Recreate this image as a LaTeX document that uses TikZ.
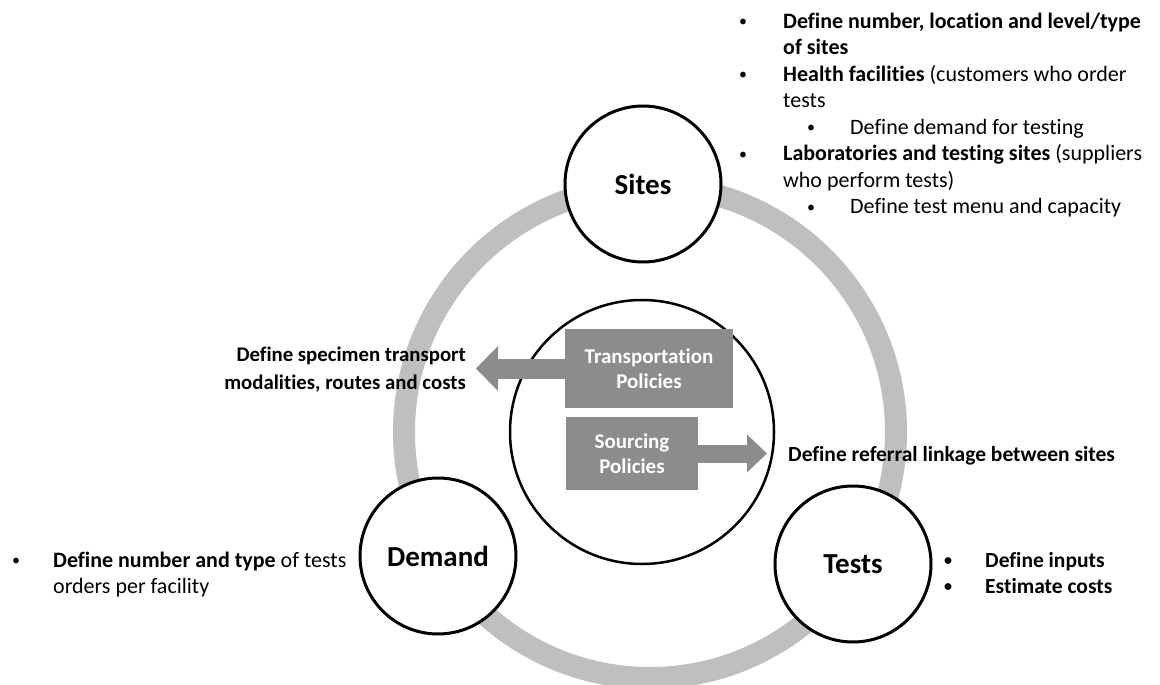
\documentclass[tikz,border=0pt]{standalone}
\usepackage{fontspec}
\setmainfont{Carlito}[Ligatures=NoCommon]
\usetikzlibrary{arrows.meta}
\definecolor{ringgray}{HTML}{BFBFBF}
\definecolor{boxgray}{HTML}{8C8C8C}
\newcommand\bul[1]{\leavevmode\llap{\makebox[#1][l]{\fontsize{16}{16}\selectfont\raisebox{1.5pt}{•}}}}
\begin{document}
\begin{tikzpicture}[x=1pt,y=-1pt,
  satellite/.style={circle, draw, line width=3pt, fill=white, minimum size=156pt, inner sep=0pt,
    font=\fontsize{29}{30}\selectfont\bfseries},
  policybox/.style={fill=boxgray, text=white, font=\fontsize{21}{25}\selectfont\bfseries,
    align=center, inner sep=0pt},
  info/.style={font=\fontsize{22}{26.5}\selectfont, inner sep=0pt},
  bigarrow/.style={draw=boxgray, line width=20pt, -{Triangle[length=22pt, width=45pt, line width=0pt]}},
  smallarrow/.style={draw=boxgray, line width=18pt, -{Triangle[length=20pt, width=38pt, line width=0pt]}}]
\useasboundingbox (0,0) rectangle (1160,685);
\draw[ringgray, line width=22pt] (650,432) circle[radius=246pt];
\node[draw, circle, line width=2.5pt, minimum size=264pt, inner sep=0pt] (core) at (642,432) {};
\node[satellite] (sites) at (643,184) {Sites};
\node[satellite] (demand) at (438,556) {Demand};
\node[satellite] (tests) at (853,564) {Tests};
\node[policybox, minimum width=168pt, minimum height=79pt] (trans) at (649,368.5) {Transportation\\Policies};
\node[policybox, minimum width=132pt, minimum height=73pt] (src) at (632,453.5) {Sourcing\\Policies};
\node[info, font=\fontsize{20.8}{28}\selectfont\bfseries, align=right, anchor=base east] (tdesc) at (466,389)
  {Define specimen transport\\modalities, routes and costs};
\node[info, font=\fontsize{21.5}{26}\selectfont\bfseries, anchor=base west] (sdesc) at (788,461)
  {Define referral linkage between sites};
\draw[bigarrow, shorten >=10pt] (trans.west) -- (trans.west -| tdesc.east);
\draw[smallarrow, shorten >=21pt] (src.east) -- (src.east -| sdesc.west);
\node[info, align=left, anchor=base west] (sitesinfo) at (783,213.5)
  {\bul{44pt}\textbf{Define number, location and level/type}\\
   \textbf{of sites}\\
   \bul{44pt}\textbf{Health facilities} (customers who order\\
   tests\\
   \hspace*{67pt}\bul{43pt}Define demand for testing\\
   \bul{44pt}\textbf{Laboratories and testing sites} (suppliers\\
   who perform tests)\\
   \hspace*{67pt}\bul{43pt}Define test menu and capacity};
\node[info, font=\fontsize{22}{26}\selectfont, align=left, anchor=base west] (demandinfo) at (53,593)
  {\bul{41pt}\textbf{Define number and type} of tests\\orders per facility};
\node[info, font=\fontsize{21.5}{26}\selectfont\bfseries, align=left, anchor=base west] (testsinfo) at (985,593)
  {\bul{41pt}Define inputs\\\bul{41pt}Estimate costs};
\end{tikzpicture}
\end{document}
